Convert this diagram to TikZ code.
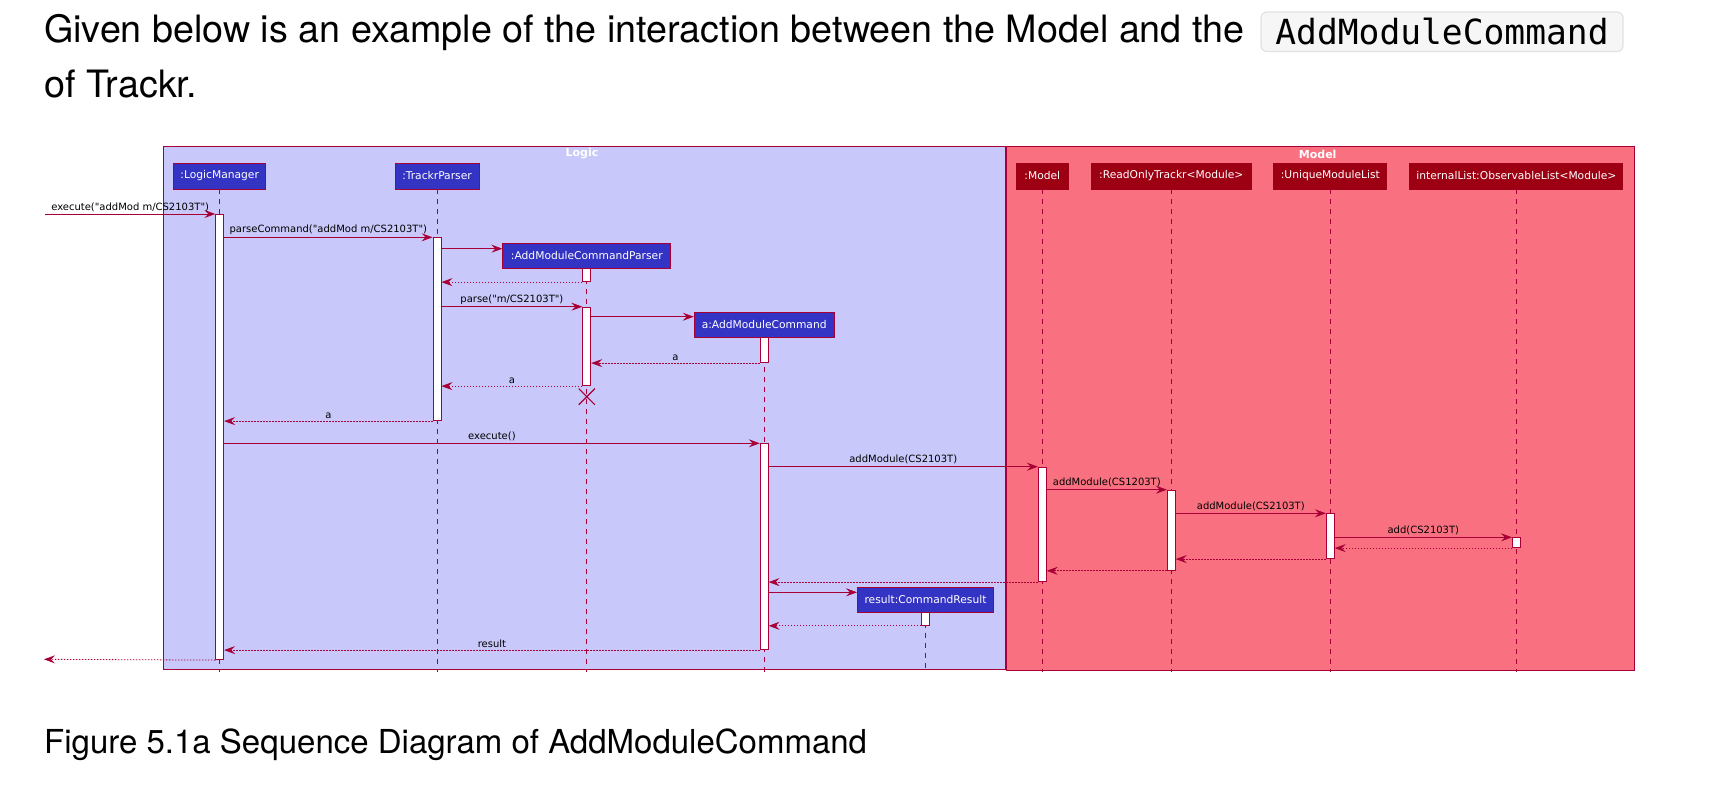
\documentclass[tikz,border=0pt]{standalone}
\usepackage{fontspec}
\setmainfont{TeX Gyre Heros}
\newfontfamily\diagfont{DejaVu Sans}
\newfontfamily\codefont{DejaVu Sans Mono}
\usetikzlibrary{arrows.meta,shapes.misc,positioning}
\definecolor{umlred}{HTML}{A80036}
\definecolor{logicblue}{HTML}{3333C4}
\definecolor{logicbg}{HTML}{C8C8FA}
\definecolor{modelred}{HTML}{9D0012}
\definecolor{modelbg}{HTML}{F97181}
\definecolor{codebg}{HTML}{F6F6F6}
\definecolor{codeline}{HTML}{E2E2E2}
\tikzset{
  groupbox/.style={rectangle, draw=umlred, line width=1pt, inner sep=0pt, anchor=north west},
  grouptitle/.style={font=\diagfont\bfseries\fontsize{11}{13}\selectfont, text=white, inner sep=0pt},
  lhead/.style={rectangle, draw=umlred, line width=0.9pt, fill=logicblue, text=white, font=\diagfont\fontsize{10.7}{13}\selectfont, minimum height=26pt, inner sep=0pt},
  mhead/.style={lhead, fill=modelred, draw=modelred!85!umlred},
  bar/.style={rectangle, draw=umlred, fill=white, line width=0.8pt, minimum width=8pt, inner sep=0pt, anchor=north},
  life/.style={draw=umlred, line width=0.8pt, dash pattern=on 5pt off 5pt},
  msg/.style={draw=umlred, line width=0.8pt, -{Stealth[length=11pt, width=8pt, inset=4pt]}},
  ret/.style={msg, dash pattern=on 1.5pt off 1.5pt},
  lbl/.style={font=\diagfont\fontsize{10}{12}\selectfont, text=black, inner sep=1pt, above=1pt},
  destroy/.style={cross out, draw=umlred, line width=1.2pt, minimum size=15pt, inner sep=0pt},
  codebox/.style={rectangle, rounded corners=6pt, draw=codeline, line width=1.2pt, fill=codebg, minimum width=362pt, minimum height=39.6pt, inner sep=0pt, font=\codefont\fontsize{34.6}{40}\selectfont}
}
\begin{document}
\begin{tikzpicture}[x=1pt, y=-1pt]
\fill[white] (0,0) rectangle (1722,800);
\useasboundingbox (0,0) rectangle (1722,800);

% text around the figure
\node[anchor=base west, inner sep=0pt, font=\fontsize{37.7}{45}\selectfont] (intro) at (44,43) {Given below is an example of the interaction between the Model and the};
\node[codebox] (codename) at (1442,31.8) {AddModuleCommand};
\node[anchor=base west, inner sep=0pt, font=\fontsize{37.7}{45}\selectfont] (introb) at (44,98) {of Trackr.};
\node[anchor=base west, inner sep=0pt, font=\fontsize{33}{40}\selectfont] (caption) at (44,753) {Figure 5.1a Sequence Diagram of AddModuleCommand};

% groups
\node[groupbox, fill=logicbg, minimum width=841.5pt, minimum height=523pt] (logic) at (163,146) {};
\node[groupbox, fill=modelbg, minimum width=628.3pt, minimum height=523.5pt] (model) at (1006,146) {};
\node[grouptitle] (logictitle) at (582,154) {Logic};
\node[grouptitle] (modeltitle) at (1317.7,154) {Model};

% participants
\node[lhead, minimum width=92pt] (lm) at (219.7,176) {:LogicManager};
\node[lhead, minimum width=84pt] (tp) at (437,176) {:TrackrParser};
\node[lhead, minimum width=168pt, minimum height=25pt] (amcp) at (586.8,255.8) {:AddModuleCommandParser};
\node[lhead, minimum width=140pt, minimum height=25pt] (amc) at (764.2,324.5) {a:AddModuleCommand};
\node[lhead, minimum width=136pt, minimum height=25pt] (res) at (925.5,599.7) {result:CommandResult};
\node[mhead, minimum width=52pt] (mdl) at (1042.3,176) {:Model};
\node[mhead, minimum width=160pt] (rot) at (1171.3,176) {:ReadOnlyTrackr<Module>};
\node[mhead, minimum width=113pt] (uml) at (1330.3,176) {:UniqueModuleList};
\node[mhead, minimum width=213pt] (il) at (1516.4,176) {internalList:ObservableList<Module>};

\coordinate (lifeend) at (0,672);
\foreach \h in {lm,tp,amcp,amc,res,mdl,rot,uml,il}
  \draw[life] (\h.south) -- (\h.south |- lifeend);

% activation bars
\foreach \nm/\h/\ya/\yb in {lmbar/lm/214/659.3, tpbar/tp/237.3/420.3, amcpbarA/amcp/268.3/281.3, amcpbarB/amcp/306.7/385.3, amcbarA/amc/337/362.3, amcbarB/amc/443.3/649.3, mdlbar/mdl/466.7/581.3, rotbar/rot/489.7/570, umlbar/uml/513.3/558.3, ilbar/il/537.3/547.3, resbar/res/612.3/625}
  \node[bar, minimum height={(\yb-\ya)*1pt}] (\nm) at (\h.south |- 0,\ya) {};

\coordinate (found) at (45,214);
\coordinate (lost) at (44,659.3);
\coordinate (rNewP) at (0,248.7);
\coordinate (rNewC) at (0,316.7);
\coordinate (rX) at (0,396.7);
\coordinate (rNewR) at (0,592.3);

% messages
\draw[msg] (found) -- (lmbar.north west) node[lbl, midway] {execute("addMod m/CS2103T")};
\draw[msg] (lmbar.east |- tpbar.north) -- (tpbar.north west) node[lbl, midway] {parseCommand("addMod m/CS2103T")};
\draw[msg] (tpbar.east |- rNewP) -- (amcp.west |- rNewP);
\draw[ret] (amcpbarA.south west) -- (tpbar.east |- amcpbarA.south);
\draw[msg] (tpbar.east |- amcpbarB.north) -- (amcpbarB.north west) node[lbl, midway] {parse("m/CS2103T")};
\draw[msg] (amcpbarB.east |- rNewC) -- (amc.west |- rNewC);
\draw[ret] (amcbarA.south west) -- (amcpbarB.east |- amcbarA.south) node[lbl, midway] {a};
\draw[ret] (amcpbarB.south west) -- (tpbar.east |- amcpbarB.south) node[lbl, midway] {a};
\node[destroy] (amcpx) at (amcp.south |- rX) {};
\draw[ret] (tpbar.south west) -- (lmbar.east |- tpbar.south) node[lbl, midway] {a};
\draw[msg] (lmbar.east |- amcbarB.north) -- (amcbarB.north west) node[lbl, midway] {execute()};
\draw[msg] (amcbarB.east |- mdlbar.north) -- (mdlbar.north west) node[lbl, midway] {addModule(CS2103T)};
\draw[msg] (mdlbar.east |- rotbar.north) -- (rotbar.north west) node[lbl, midway] {addModule(CS1203T)};
\draw[msg] (rotbar.east |- umlbar.north) -- (umlbar.north west) node[lbl, midway] {addModule(CS2103T)};
\draw[msg] (umlbar.east |- ilbar.north) -- (ilbar.north west) node[lbl, midway] {add(CS2103T)};
\draw[ret] (ilbar.south west) -- (umlbar.east |- ilbar.south);
\draw[ret] (umlbar.south west) -- (rotbar.east |- umlbar.south);
\draw[ret] (rotbar.south west) -- (mdlbar.east |- rotbar.south);
\draw[ret] (mdlbar.south west) -- (amcbarB.east |- mdlbar.south);
\draw[msg] (amcbarB.east |- rNewR) -- (res.west |- rNewR);
\draw[ret] (resbar.south west) -- (amcbarB.east |- resbar.south);
\draw[ret] (amcbarB.south west) -- (lmbar.east |- amcbarB.south) node[lbl, midway] {result};
\draw[ret] (lmbar.south west) -- (lost);
\end{tikzpicture}
\end{document}
